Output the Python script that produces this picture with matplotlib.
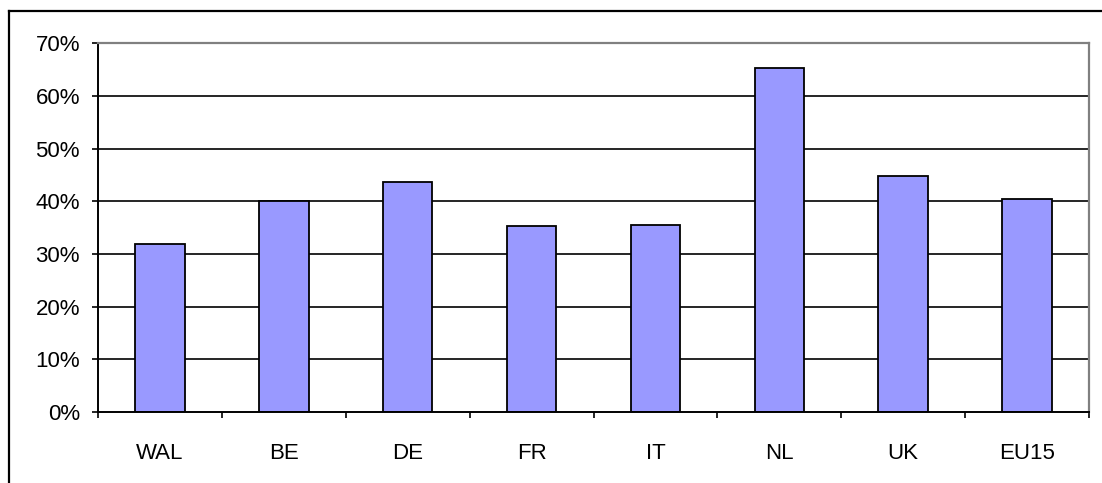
import matplotlib.pyplot as plt
from matplotlib.lines import Line2D
from matplotlib.ticker import FuncFormatter

# data
countries = ["WAL", "BE", "DE", "FR", "IT", "NL", "UK", "EU15"]
shares = [0.319, 0.40, 0.4375, 0.354, 0.355, 0.654, 0.449, 0.404]
y_ticks = [0.0, 0.1, 0.2, 0.3, 0.4, 0.5, 0.6, 0.7]

plt.rcParams['font.family'] = ['Liberation Sans', 'DejaVu Sans']

fig = plt.figure(figsize=(11.02, 4.83), dpi=100)
ax = fig.add_axes([98 / 1102, 1 - 412 / 483, (1089 - 98) / 1102, (412 - 43.3) / 483])

# outer chart frame (only left and top edges fall inside the picture)
fig.add_artist(Line2D([9 / 1102, 9 / 1102], [-0.1, 1 - 11 / 483], color='black', lw=1.6,
                      transform=fig.transFigure))
fig.add_artist(Line2D([9 / 1102, 1.1], [1 - 11 / 483, 1 - 11 / 483], color='black', lw=1.6,
                      transform=fig.transFigure))

x = range(len(countries))
# horizontal gridlines
for v in y_ticks[1:-1]:
    ax.axhline(v, color='black', lw=1.2, zorder=1)

ax.bar(x, shares, width=0.4, color='#9999FF', edgecolor='black', linewidth=1.3, zorder=2)

ax.set_xlim(-0.5, len(countries) - 0.5)
ax.set_ylim(0, 0.7)
ax.set_yticks(y_ticks)
ax.yaxis.set_major_formatter(FuncFormatter(lambda v, p: f"{v * 100:.0f}%"))
ax.set_xticks(list(x))
ax.set_xticklabels(countries)
ax.set_xticks([i - 0.5 for i in range(len(countries) + 1)], minor=True)

ax.tick_params(axis='x', which='major', length=0, pad=22, labelsize=16)
ax.tick_params(axis='x', which='minor', length=4, width=1.2, direction='out')
ax.tick_params(axis='y', length=4, width=1.2, direction='out', pad=9, labelsize=16)

for s in ['left', 'bottom']:
    ax.spines[s].set_color('black')
    ax.spines[s].set_linewidth(1.4)
for s in ['top', 'right']:
    ax.spines[s].set_color('#808080')
    ax.spines[s].set_linewidth(1.6)

fig.savefig('out.png', dpi=100)
